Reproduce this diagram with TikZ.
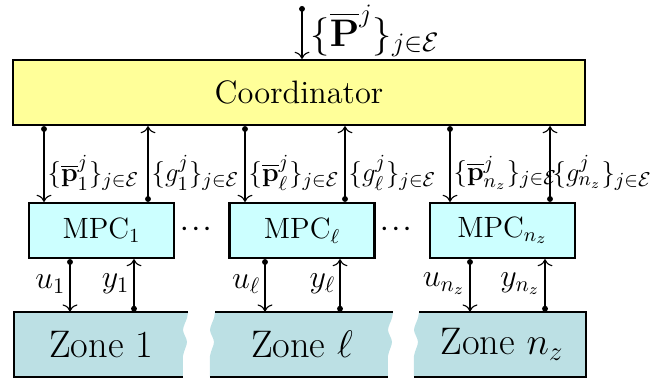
\documentclass[tikz,border=0pt]{standalone}
\usepackage{amsmath,amssymb}
\usetikzlibrary{arrows.meta}
\definecolor{coordcol}{RGB}{255,255,153}
\definecolor{mpccol}{RGB}{204,255,255}
\definecolor{zonecol}{RGB}{188,224,228}
\begin{document}
\begin{tikzpicture}[x=0.45pt,y=-0.45pt,
  box/.style={draw,line width=1pt,inner sep=0pt},
  coordbox/.style={box,fill=coordcol,minimum width=572*0.45pt,minimum height=65*0.45pt,font=\fontsize{14.6}{17}\selectfont},
  mpcbox/.style={box,fill=mpccol,minimum width=145*0.45pt,minimum height=55*0.45pt,font=\fontsize{13.2}{15}\selectfont},
  zonetext/.style={inner sep=0pt,minimum height=65*0.45pt,font=\LARGE},
  sig/.style={line width=0.5pt,{Circle[length=2.6pt]}-{To[length=3.2pt]}},
  lab/.style={font=\fontsize{12.6}{15}\selectfont,inner sep=1pt},
  iolab/.style={font=\Large,inner sep=1pt,anchor=east},
  zedge/.style={line width=1pt}
]
\useasboundingbox (0,0) rectangle (668,381);

% zone fills
\fill[zonecol] (14,312) -- plot[smooth] coordinates {(188,312) (187,318) (183,330) (187,342) (183,356) (183,377)} -- (14,377) -- cycle;
\fill[zonecol] plot[smooth] coordinates {(215,312) (214,318) (210,330) (214,342) (210,356) (210,377)} -- plot[smooth] coordinates {(388,377) (388,356) (392,342) (388,330) (392,318) (393,312)} -- cycle;
\fill[zonecol] plot[smooth] coordinates {(419,312) (418,318) (414,330) (418,342) (414,356) (414,377)} -- (586,377) -- (586,312) -- cycle;
\draw[zedge] (188,312) -- (14,312) -- (14,377) -- (183,377);
\draw[zedge] (215,312) -- (393,312);
\draw[zedge] (210,377) -- (388,377);
\draw[zedge] (419,312) -- (586,312) -- (586,377) -- (414,377);

\node[zonetext,minimum width=174*0.45pt] (z1) at (101,344.5) {Zone 1};
\node[zonetext,minimum width=178*0.45pt] (zl) at (302,344.5) {Zone $\ell$};
\node[zonetext,minimum width=167*0.45pt] (zn) at (502,344.5) {Zone $n_z$};

\node[coordbox] (coord) at (299,92.5) {Coordinator};
\node[mpcbox] (m1) at (101.5,230.5) {MPC$_1$};
\node[mpcbox] (ml) at (302,230.5) {MPC$_\ell$};
\node[mpcbox] (mn) at (502.5,230.5) {MPC$_{n_z}$};
\node[font=\normalsize] (d1) at (198,229) {$\boldsymbol{\cdots}$};
\node[font=\normalsize] (d2) at (398,229) {$\boldsymbol{\cdots}$};

\coordinate (topsrc) at (302,6);
\draw[sig] (topsrc) -- (coord.north -| topsrc);
\node[font=\LARGE,anchor=west,inner sep=1pt] (toplab) at (308,31) {$\{\overline{\mathbf{P}}^j\}_{j\in\mathcal{E}}$};

% coordinator <-> MPC
\draw[sig] (coord.south -| 44,0) -- (m1.north -| 44,0);
\draw[sig] (m1.north -| 148,0) -- (coord.south -| 148,0);
\draw[sig] (coord.south -| 245,0) -- (ml.north -| 245,0);
\draw[sig] (ml.north -| 345,0) -- (coord.south -| 345,0);
\draw[sig] (coord.south -| 450,0) -- (mn.north -| 450,0);
\draw[sig] (mn.north -| 550,0) -- (coord.south -| 550,0);

\node[lab,anchor=west] (p1) at (45,173) {$\{\overline{\mathbf{p}}_1^j\}_{j\in\mathcal{E}}$};
\node[lab,anchor=west] (g1) at (149,173) {$\{g_1^j\}_{j\in\mathcal{E}}$};
\node[lab,anchor=west] (pl) at (246,173) {$\{\overline{\mathbf{p}}_\ell^j\}_{j\in\mathcal{E}}$};
\node[lab,anchor=west] (gl) at (346,173) {$\{g_\ell^j\}_{j\in\mathcal{E}}$};
\node[lab,anchor=west] (pn) at (451,173) {$\{\overline{\mathbf{p}}_{n_z}^j\}_{j\in\mathcal{E}}$};
\node[lab,anchor=west] (gn) at (550,173) {$\{g_{n_z}^j\}_{j\in\mathcal{E}}$};

% MPC <-> zones
\draw[sig] (m1.south -| 70,0) -- (z1.north -| 70,0);
\draw[sig] (z1.north -| 134,0) -- (m1.south -| 134,0);
\draw[sig] (ml.south -| 265,0) -- (zl.north -| 265,0);
\draw[sig] (zl.north -| 340,0) -- (ml.south -| 340,0);
\draw[sig] (mn.south -| 470,0) -- (zn.north -| 470,0);
\draw[sig] (zn.north -| 545,0) -- (mn.south -| 545,0);

\node[iolab] (u1) at (68,284) {$u_1$};
\node[iolab] (y1) at (132,284) {$y_1$};
\node[iolab] (ul) at (263,284) {$u_\ell$};
\node[iolab] (yl) at (338,284) {$y_\ell$};
\node[iolab] (un) at (468,284) {$u_{n_z}$};
\node[iolab] (yn) at (543,284) {$y_{n_z}$};
\end{tikzpicture}
\end{document}
